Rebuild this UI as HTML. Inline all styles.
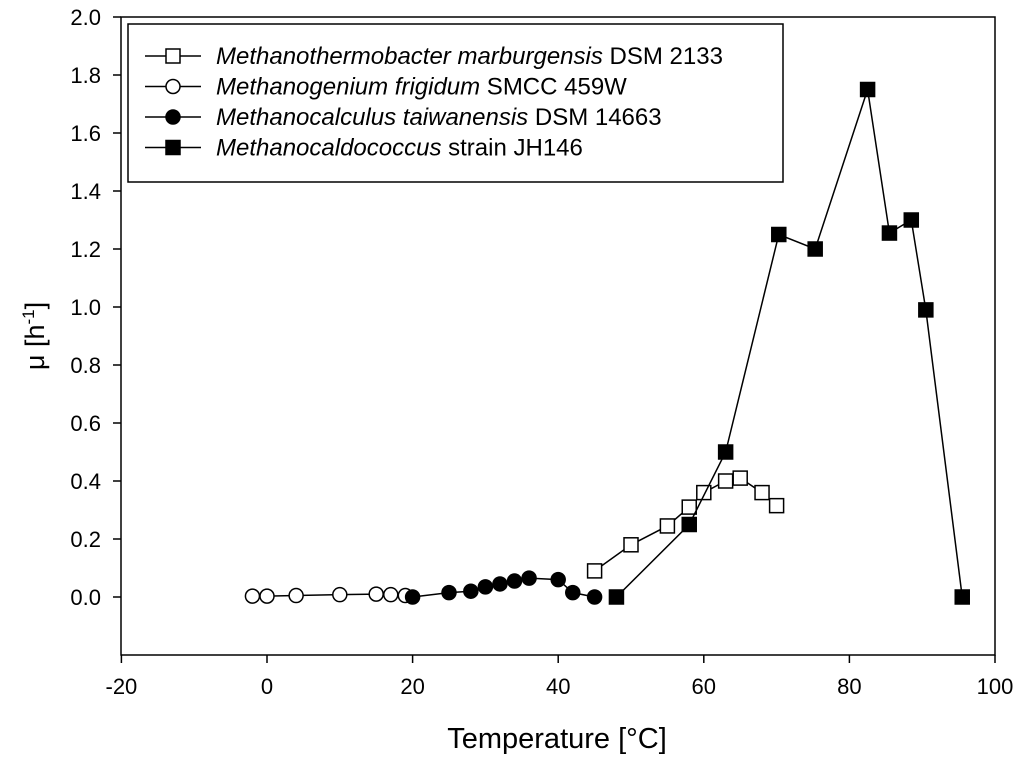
<!DOCTYPE html>
<html><head><meta charset="utf-8"><style>
body{margin:0;background:#fff}
svg{display:block;font-family:"Liberation Sans",Arial,sans-serif}
</style></head><body>
<svg id="c" width="1024" height="764" viewBox="0 0 1024 764">
<rect x="121" y="17" width="874" height="638" fill="none" stroke="#000" stroke-width="1.5"/>
<g id="axes"></g>
<g id="series"></g>
<text x="557" y="748" font-size="29" text-anchor="middle">Temperature [°C]</text>
<text transform="translate(44,336) rotate(-90)" font-size="27" text-anchor="middle">μ [h<tspan dy="-10" font-size="17">-1</tspan><tspan dy="10">]</tspan></text>
<g>
<rect x="128" y="24" width="655" height="158" fill="#fff" stroke="#000" stroke-width="1.5"/>
<g id="legend"></g>
</g>
</svg>
<script>
const xTicks=[-20,0,20,40,60,80,100];
const yTicks=[0.0,0.2,0.4,0.6,0.8,1.0,1.2,1.4,1.6,1.8,2.0];
const mmT=[45,50,55,58,60,63,65,68,70];
const mmV=[0.09,0.18,0.245,0.31,0.36,0.40,0.41,0.36,0.315];
const mfT=[-2,0,4,10,15,17,19];
const mfV=[0.003,0.003,0.005,0.008,0.01,0.008,0.005];
const mtT=[20,25,28,30,32,34,36,40,42,45];
const mtV=[0,0.015,0.02,0.035,0.045,0.055,0.065,0.06,0.015,0];
const mcT=[48,58,63,70.3,75.3,82.5,85.5,88.5,90.5,95.5];
const mcV=[0,0.25,0.5,1.25,1.2,1.75,1.255,1.3,0.99,0];
const X=t=>267+(t)*7.28;
const Y=v=>597-v*290;
const NS='http://www.w3.org/2000/svg';
function mk(tag,at,parent){const e=document.createElementNS(NS,tag);for(const k in at)e.setAttribute(k,at[k]);parent.appendChild(e);return e;}
const ax=document.getElementById('axes');
xTicks.forEach(t=>{
 const l=mk('line',{x1:X(t),x2:X(t),y1:655,y2:663,stroke:'#000','stroke-width':1.5},ax);
 
 
 const s=mk('text',{x:X(t),y:694,'font-size':22,'text-anchor':'middle'},ax);
 s.textContent=t;
 
 
});
yTicks.forEach(v=>{
 const l=mk('line',{x1:113,x2:121,y1:Y(v),y2:Y(v),stroke:'#000','stroke-width':1.5},ax);
 
 
 const s=mk('text',{x:101,y:Y(v)+8,'font-size':22,'text-anchor':'end'},ax);
 s.textContent=v.toFixed(1);
 
 
});
const sg=document.getElementById('series');
function marker(shape,fill,cx,cy,p,name){
 let m;
 if(shape==='sq') m=mk('rect',{x:cx-7,y:cy-7,width:14,height:14,fill:fill,stroke:'#000','stroke-width':1.5},p);
 else m=mk('circle',{cx:cx,cy:cy,r:7,fill:fill,stroke:'#000','stroke-width':1.5},p);
 
 
}
function series(T,V,shape,fill,name){
 const g=mk('g',{},sg);
 
 
 mk('polyline',{points:T.map((t,i)=>X(t)+','+Y(V[i])).join(' '),fill:'none',stroke:'#000','stroke-width':1.5},g);
 T.forEach((t,i)=>marker(shape,fill,X(t),Y(V[i]),g,name+'-point'));
}
series(mfT,mfV,'ci','#fff','m-frigidum-series');
series(mtT,mtV,'ci','#000','m-taiwanensis-series');
series(mmT,mmV,'sq','#fff','m-marburgensis-series');
series(mcT,mcV,'sq','#000','methanocaldococcus-series');
const lg=document.getElementById('legend');
const entries=[['sq','#fff','<tspan font-style="italic">Methanothermobacter marburgensis</tspan> DSM 2133'],
['ci','#fff','<tspan font-style="italic">Methanogenium frigidum</tspan> SMCC 459W'],
['ci','#000','<tspan font-style="italic">Methanocalculus taiwanensis</tspan> DSM 14663'],
['sq','#000','<tspan font-style="italic">Methanocaldococcus</tspan> strain JH146']];
entries.forEach((e,i)=>{
 const y=56+i*30.5;
 const g=mk('g',{},lg);
 
 
 mk('line',{x1:145,x2:201,y1:y,y2:y,stroke:'#000','stroke-width':1.5},g);
 marker(e[0],e[1],173,y,g,'legend-marker');
 const t=mk('text',{x:216,y:y+8,'font-size':24},g);
 t.innerHTML=e[2];
});
</script>
</body></html>
